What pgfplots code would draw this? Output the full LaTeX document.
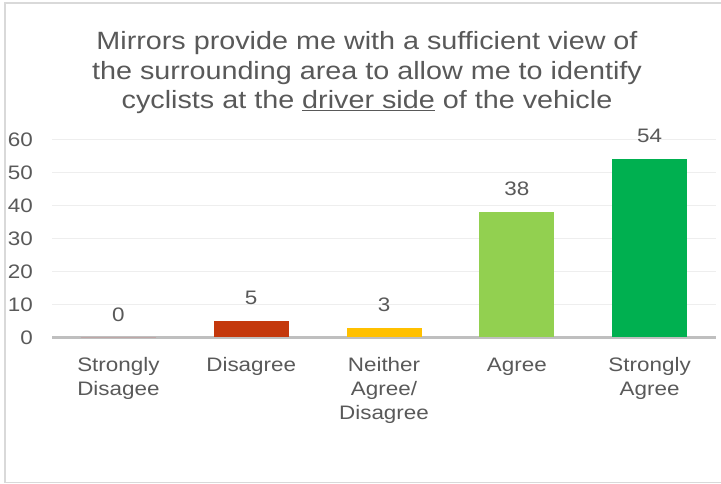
\documentclass[border=0pt]{standalone}
\usepackage{fontspec}
\setmainfont{Liberation Sans}[FakeStretch=1.15]
\usepackage{pgfplots}
\pgfplotsset{compat=1.18}
\definecolor{txt}{HTML}{595959}
\definecolor{framegray}{HTML}{D9D9D9}
\definecolor{axisgray}{HTML}{BFBFBF}
\definecolor{gridgray}{HTML}{EEEEEE}
\definecolor{cSD}{HTML}{C00000}
\definecolor{cD}{HTML}{C4380C}
\definecolor{cN}{HTML}{FFC000}
\definecolor{cA}{HTML}{92D050}
\definecolor{cSA}{HTML}{00B050}
\begin{document}
\begin{tikzpicture}[x=1bp,y=1bp]
\path[use as bounding box] (0,0) rectangle (721,484);
\draw[framegray, line width=1.5bp] (725,481) -- (5,481) -- (5,1.5) -- (725,1.5);
\node[anchor=north, align=center, inner sep=0pt, text=txt, font=\fontsize{25bp}{29.5bp}\selectfont] at (367,452.5) {Mirrors provide me with a sufficient view of\\the surrounding area to allow me to identify\\cyclists at the \underline{driver side} of the vehicle};
\begin{axis}[
  at={(52bp,146.5bp)}, anchor=south west,
  width=664bp, height=198bp, scale only axis,
  xmin=-0.5, xmax=4.5, ymin=0, ymax=60,
  ytick={0,10,...,60},
  xtick={0,1,2,3,4},
  xticklabels={{Strongly\\Disagee},Disagree,{Neither\\Agree/\\Disagree},Agree,{Strongly\\Agree}},
  axis x line=bottom, axis y line=left,
  x axis line style={draw=axisgray, line width=3bp, -},
  y axis line style={draw=none},
  major tick length=0pt,
  ymajorgrids, grid style={draw=gridgray, line width=1bp},
  tick label style={font=\fontsize{19.5bp}{24bp}\selectfont, text=txt},
  yticklabel style={anchor=east, inner sep=0pt, xshift=-19bp},
  xticklabel style={anchor=north, inner sep=0pt, yshift=-20bp, align=center},
  /pgf/number format/assume math mode=true,
  ybar, bar width=75bp, bar shift=0pt,
  nodes near coords,
  every node near coord/.append style={font=\fontsize{19.5bp}{24bp}\selectfont, text=txt, anchor=south, inner sep=0pt, yshift=16bp},
  clip=false,
]
\addplot[fill=cSD, draw=none, bar shift=0pt] coordinates {(0,0)};
\addplot[fill=cD, draw=none, bar shift=0pt] coordinates {(1,5)};
\addplot[fill=cN, draw=none, bar shift=0pt] coordinates {(2,3)};
\addplot[fill=cA, draw=none, bar shift=0pt] coordinates {(3,38)};
\addplot[fill=cSA, draw=none, bar shift=0pt] coordinates {(4,54)};
\end{axis}
\end{tikzpicture}
\end{document}
